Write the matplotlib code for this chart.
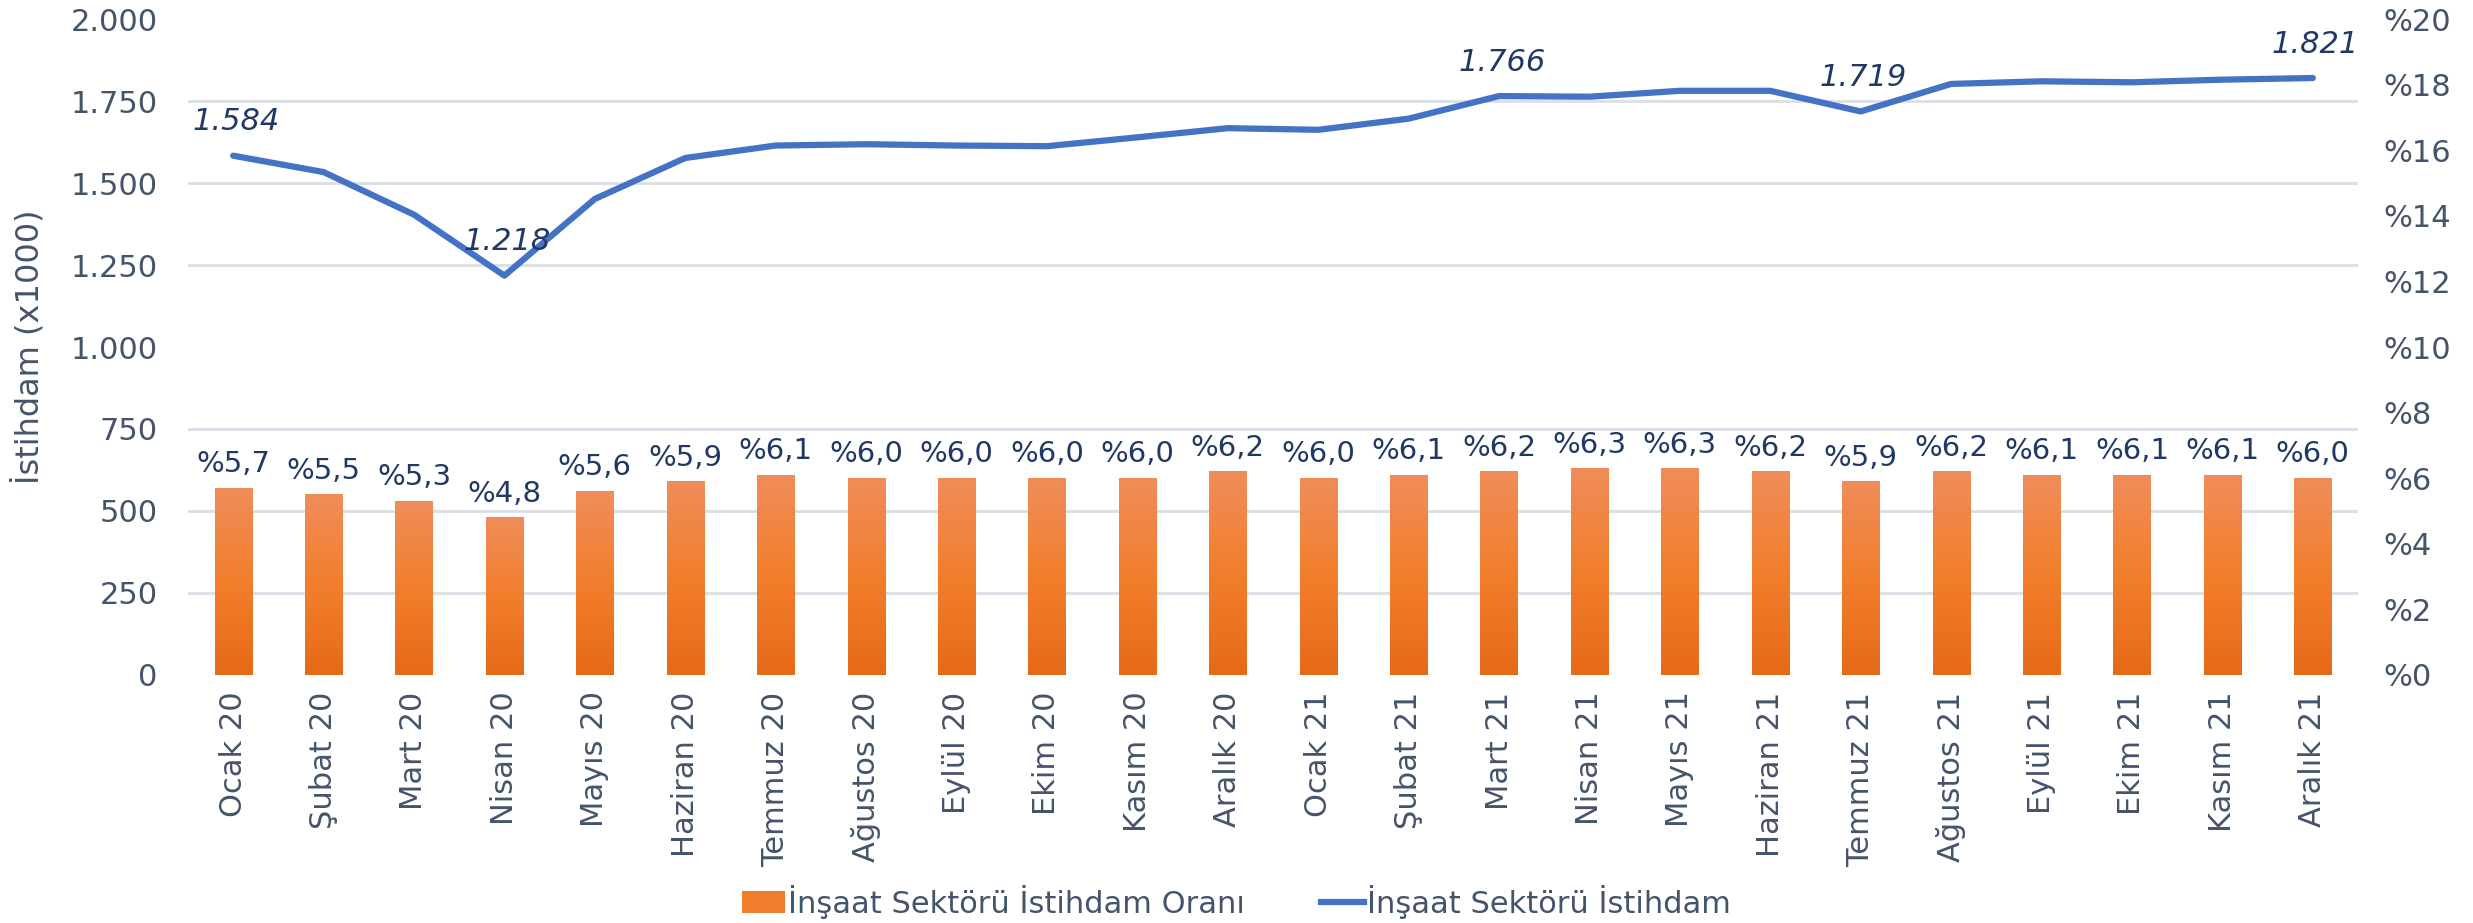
import numpy as np
import matplotlib
matplotlib.use('Agg')
from matplotlib import pyplot as plt
from matplotlib.colors import LinearSegmentedColormap
from matplotlib.lines import Line2D
from matplotlib.patches import Patch

plt.rcParams['font.family'] = ['Liberation Sans Narrow', 'DejaVu Sans']

months = ['Ocak 20', 'Şubat 20', 'Mart 20', 'Nisan 20', 'Mayıs 20', 'Haziran 20',
          'Temmuz 20', 'Ağustos 20', 'Eylül 20', 'Ekim 20', 'Kasım 20', 'Aralık 20',
          'Ocak 21', 'Şubat 21', 'Mart 21', 'Nisan 21', 'Mayıs 21', 'Haziran 21',
          'Temmuz 21', 'Ağustos 21', 'Eylül 21', 'Ekim 21', 'Kasım 21', 'Aralık 21']
rate = [5.7, 5.5, 5.3, 4.8, 5.6, 5.9, 6.1, 6.0, 6.0, 6.0, 6.0, 6.2,
        6.0, 6.1, 6.2, 6.3, 6.3, 6.2, 5.9, 6.2, 6.1, 6.1, 6.1, 6.0]
employment = [1584, 1534, 1404, 1218, 1452, 1577, 1615, 1619, 1615, 1613, 1640, 1668,
              1663, 1697, 1766, 1764, 1782, 1782, 1719, 1803, 1811, 1808, 1816, 1821]
labelled = [0, 3, 14, 18, 23]

text_col = '#44546A'
navy = '#1F3864'
line_col = '#4472C4'
grid_col = '#DCE1E8'

fig = plt.figure(figsize=(24.73, 9.23), dpi=100)
ax = fig.add_axes([0.076, 0.269, 0.8775, 0.71])   # percent axis (right)
ax2 = ax.twinx()                                   # employment axis (left)
ax.yaxis.tick_right()
ax2.yaxis.tick_left()
ax2.yaxis.set_label_position('left')

x = np.arange(len(months))
w = 0.41
cmap = LinearSegmentedColormap.from_list('bar', ['#E56A18', '#F27E2C', '#F08D5A'])
grad = np.linspace(0, 1, 256).reshape(-1, 1)
bars = ax.bar(x, rate, width=w, color='none', zorder=2)
for b in bars:
    x0, h = b.get_x(), b.get_height()
    ax.imshow(grad, extent=[x0, x0 + w, 0, h], origin='lower', aspect='auto',
              cmap=cmap, zorder=2)
for xi, r in zip(x, rate):
    ax.annotate('%' + f'{r:.1f}'.replace('.', ','), (xi, r), xytext=(0, 7),
                textcoords='offset points', ha='center', va='bottom',
                fontsize=21, color=navy)

ax.set_xlim(-0.5, len(months) - 0.5)
ax.set_ylim(0, 20)
ax.set_yticks(np.arange(0, 21, 2))
ax.set_yticklabels(['%' + str(v) for v in range(0, 21, 2)])
ax.set_yticks(np.arange(0, 20.1, 2.5), minor=True)
ax.grid(which='minor', axis='y', color=grid_col, linewidth=2.2, zorder=0)
ax.set_axisbelow(True)
ax.tick_params(axis='y', which='both', length=0, labelsize=22, labelcolor=text_col, pad=18)
ax.set_xticks(x)
ax.set_xticklabels(months, rotation=90, fontsize=22, color=text_col)
ax.tick_params(axis='x', length=0, pad=12)

ax2.plot(x, employment, color=line_col, linewidth=4.5, solid_capstyle='round', zorder=3)
for i in labelled:
    ax2.annotate(f'{employment[i] / 1000:.3f}', (x[i], employment[i]), xytext=(2, 14),
                 textcoords='offset points', ha='center', va='bottom',
                 fontsize=22, color=navy, style='italic')
ax2.set_ylim(0, 2000)
ax2.set_yticks(np.arange(0, 2001, 250))
ax2.set_yticklabels([f'{v:,}'.replace(',', '.') for v in range(0, 2001, 250)])
ax2.tick_params(axis='y', length=0, labelsize=22, labelcolor=text_col, pad=22)
ax2.set_ylabel('İstihdam (x1000)', fontsize=23, color=text_col, labelpad=18)

for a in (ax, ax2):
    for s in a.spines.values():
        s.set_visible(False)

handles = [Patch(facecolor='#F07D2B', edgecolor='none'),
           Line2D([0], [0], color=line_col, linewidth=4.5)]
fig.legend(handles, ['İnşaat Sektörü İstihdam Oranı', 'İnşaat Sektörü İstihdam'],
           loc='center', bbox_to_anchor=(0.5, 0.023), ncol=2, frameon=False,
           fontsize=22, labelcolor=text_col, handlelength=1.4, handletextpad=0.1,
           columnspacing=2.5)

fig.savefig('out.png', dpi=100)
